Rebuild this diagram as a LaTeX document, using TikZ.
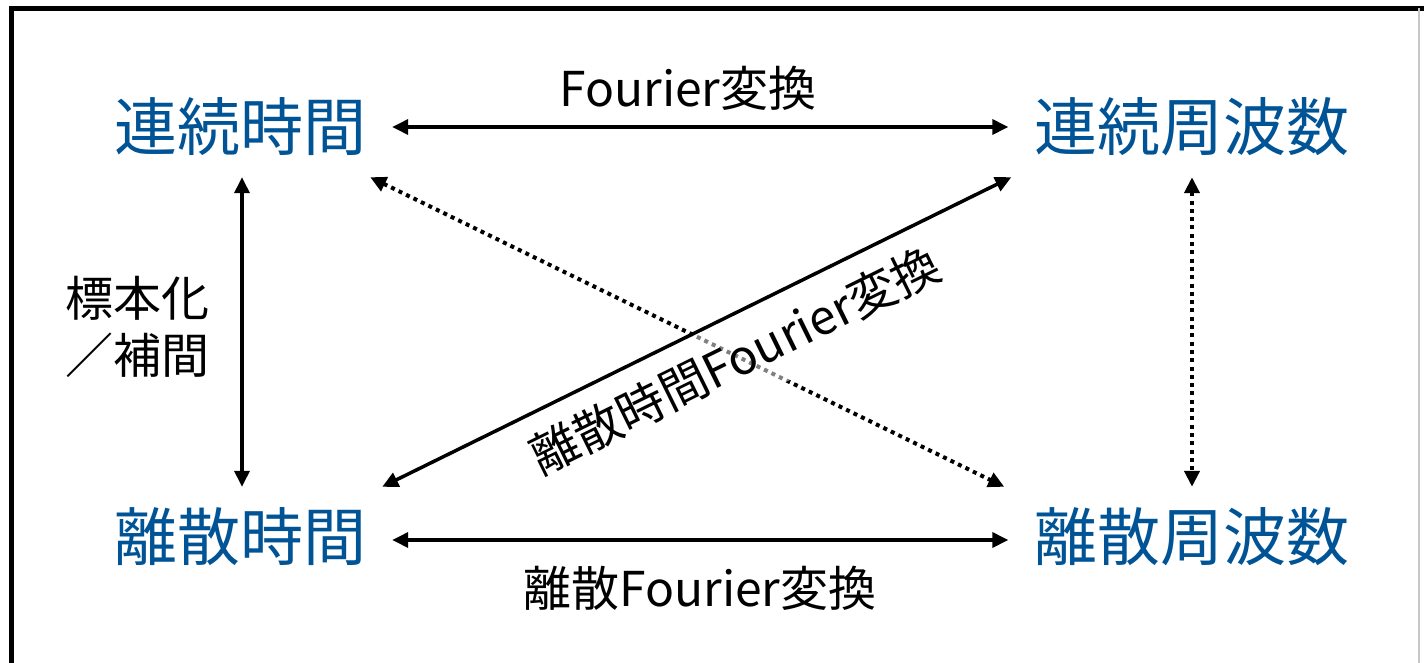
\documentclass[tikz,border=0pt]{standalone}
\usepackage{fontspec}
\setmainfont{Noto Sans CJK JP}
\usetikzlibrary{arrows.meta}
\definecolor{titleblue}{RGB}{0,84,150}
\tikzset{
  title/.style={font=\fontsize{63}{70}\selectfont, text=titleblue, text height=47pt, text depth=0pt, inner xsep=26pt, inner ysep=26.5pt},
  lbl/.style={font=\fontsize{48}{57}\selectfont, inner sep=0pt},
  conn/.style={line width=3.5pt, {Triangle[length=16pt,width=15pt]}-{Triangle[length=16pt,width=15pt]}},
  dotconn/.style={conn, line width=4pt, dash pattern=on 4pt off 4.3pt},
}
\begin{document}
\begin{tikzpicture}[x=1pt,y=-1pt]
\useasboundingbox (0,0) rectangle (1424,662);
% frame
\draw[line width=5pt] (1440,8.5) -- (11.5,8.5) -- (11.5,680);
\draw[line width=1.5pt, black!22] (1419,8) -- (1419,680);
% titles
\node[title] (ct) at (240,127) {連続時間};
\node[title] (cf) at (1192,127) {連続周波数};
\node[title] (dt) at (240,537) {離散時間};
\node[title] (df) at (1192,537) {離散周波数};
% labels
\node[lbl, text height=36pt, text depth=0pt] (l1) at (688,88) {Fourier変換};
\node[lbl, text height=36pt, text depth=0pt] (l2) at (700,588) {離散Fourier変換};
\node[lbl, anchor=west, align=left] (l3) at (65,327) {標本化\\／補間};
% connectors
\draw[conn] (ct.east) -- (cf.west);
\draw[conn] ([yshift=-3pt]dt.east) -- ([yshift=-3pt]df.west);
\draw[conn] ([xshift=2pt]ct.south) -- ([xshift=2pt]dt.north);
\draw[dotconn] (cf.south) -- (df.north);
\draw[dotconn] ([xshift=-22pt]ct.south east) -- ([xshift=-4pt]df.north west);
\path ([xshift=-10pt]dt.north east) -- ([xshift=3pt]cf.south west)
  node[lbl, pos=0.531, sloped, anchor=north, fill=white, fill opacity=0.5, text opacity=1,
       inner xsep=6pt, inner ysep=24pt, text height=36pt, text depth=0pt] (l4) {離散時間Fourier変換};
\draw[conn] ([xshift=-10pt]dt.north east) -- ([xshift=3pt]cf.south west);
\end{tikzpicture}
\end{document}
